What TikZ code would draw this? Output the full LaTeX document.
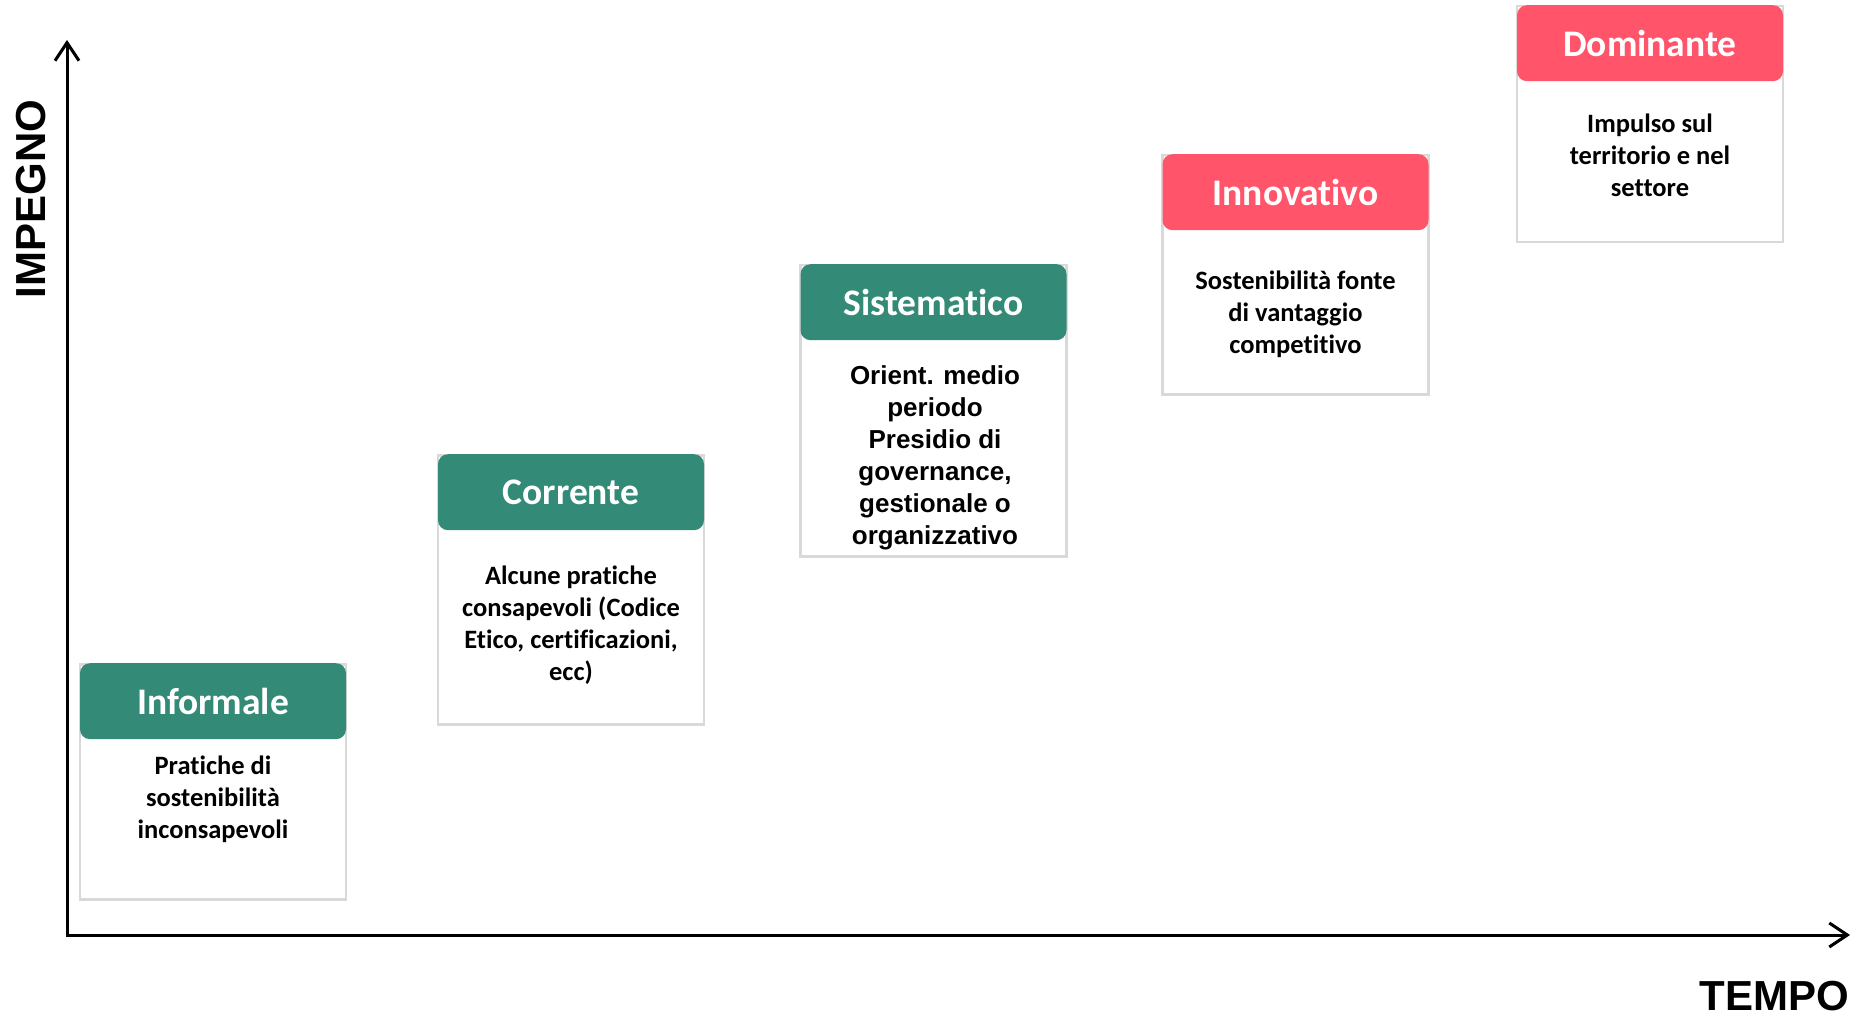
\documentclass[tikz,border=0pt]{standalone}
\usepackage{fontspec}
\setmainfont{Carlito}[Ligatures=NoCommon]
\newfontfamily\arialfont{Liberation Sans}
\usetikzlibrary{arrows.meta}
\definecolor{hdrgreen}{RGB}{51,138,118}
\definecolor{hdrred}{RGB}{255,84,106}
\definecolor{framegray}{RGB}{217,217,217}
\tikzset{
  stageframe/.style={draw=framegray, line width=2.5pt, fill=white, inner sep=0pt, minimum width=266pt, anchor=north},
  hdr/.style={fill=#1, rounded corners=10pt, inner sep=0pt, minimum width=266pt, minimum height=76pt, anchor=north, text=white, font=\fontsize{37.5}{40}\selectfont\bfseries},
  bodytext/.style={align=center, inner sep=0pt, font=\fontsize{26.5}{32}\selectfont\bfseries},
  axisline/.style={line width=3pt, {Straight Barb[length=18pt,width=24pt]}-{Straight Barb[length=18pt,width=24pt]}},
  axlabel/.style={font=\arialfont\fontsize{42}{48}\selectfont\bfseries, inner sep=0pt}
}
\begin{document}
\begin{tikzpicture}[x=1pt,y=-1pt]
\useasboundingbox (0,0) rectangle (1864,1016);
% axes
\coordinate (ytip) at (67,40);
\coordinate (orig) at (67,935);
\coordinate (xtip) at (1850,935);
\draw[axisline] (ytip) -- (orig) -- (xtip);
\node[axlabel, rotate=90] (ylab) at (31,199) {IMPEGNO};
\node[axlabel] (xlab) at (1774,996) {TEMPO};
% stage 1
\node[stageframe, minimum height=235pt] (f1) at (213,663) {};
\node[hdr=hdrgreen] (h1) at (213,663) {Informale};
\node[bodytext] (t1) at (213,799) {Pratiche di\\sostenibilità\\inconsapevoli};
% stage 2
\node[stageframe, minimum height=269pt] (f2) at (571,454) {};
\node[hdr=hdrgreen] (h2) at (571,454) {Corrente};
\node[bodytext] (t2) at (571,625) {Alcune pratiche\\consapevoli (Codice\\Etico, certificazioni,\\ecc)};
% stage 3
\node[stageframe, minimum height=291pt] (f3) at (933.5,264) {};
\node[hdr=hdrgreen] (h3) at (933.5,264) {Sistematico};
\node[bodytext, font=\arialfont\fontsize{26}{32}\selectfont\bfseries] (t3) at (935,458) {Orient. medio\\periodo\\Presidio di\\governance,\\gestionale o\\organizzativo};
% stage 4
\node[stageframe, minimum height=239pt] (f4) at (1295.5,154) {};
\node[hdr=hdrred] (h4) at (1295.5,154) {Innovativo};
\node[bodytext] (t4) at (1295.5,314) {Sostenibilità fonte\\di vantaggio\\competitivo};
% stage 5
\node[stageframe, minimum height=236pt] (f5) at (1650,5) {};
\node[hdr=hdrred] (h5) at (1650,5) {Dominante};
\node[bodytext] (t5) at (1650,155) {Impulso sul\\territorio e nel\\settore};
\end{tikzpicture}
\end{document}
